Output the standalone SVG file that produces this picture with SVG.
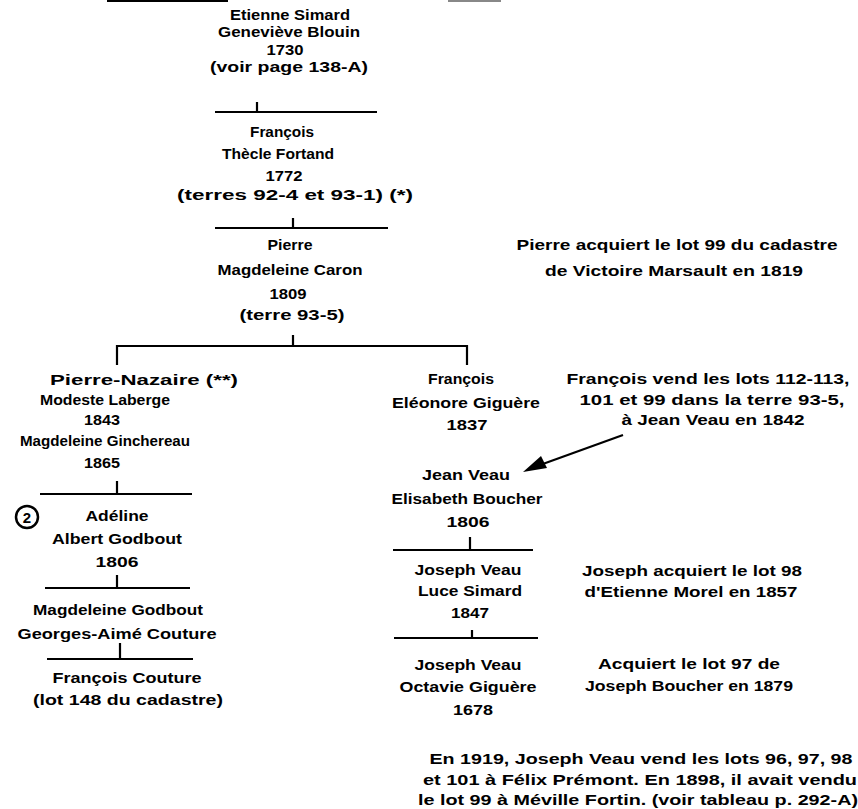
<svg xmlns="http://www.w3.org/2000/svg" width="858" height="809" viewBox="0 0 858 809">
<style>
text{font-family:"Liberation Sans","DejaVu Sans",sans-serif;font-weight:bold;font-size:15px;fill:#000;text-anchor:middle}
.ln{stroke:#000;stroke-width:2.2;fill:none}
</style>
<rect width="858" height="809" fill="#fff"/>
<line x1="107" y1="1" x2="228" y2="1" stroke="#000" stroke-width="2"/>
<line x1="448" y1="1" x2="501" y2="1" stroke="#888" stroke-width="2"/>
<g id="etienne">
<text x="290" y="20" textLength="120" lengthAdjust="spacingAndGlyphs">Etienne Simard</text>
<text x="289" y="37" textLength="142" lengthAdjust="spacingAndGlyphs">Geneviève Blouin</text>
<text x="285" y="55" textLength="37" lengthAdjust="spacingAndGlyphs">1730</text>
<text x="289" y="72" textLength="158" lengthAdjust="spacingAndGlyphs">(voir page 138-A)</text>
</g>
<g id="francois1">
<text x="282" y="137" textLength="64" lengthAdjust="spacingAndGlyphs">François</text>
<text x="278" y="159" textLength="112" lengthAdjust="spacingAndGlyphs">Thècle Fortand</text>
<text x="284" y="181" textLength="37" lengthAdjust="spacingAndGlyphs">1772</text>
<text x="295" y="200" textLength="236" lengthAdjust="spacingAndGlyphs">(terres 92-4 et 93-1) (*)</text>
</g>
<g id="pierre">
<text x="290" y="250" textLength="45" lengthAdjust="spacingAndGlyphs">Pierre</text>
<text x="290" y="275" textLength="145" lengthAdjust="spacingAndGlyphs">Magdeleine Caron</text>
<text x="288" y="299" textLength="37" lengthAdjust="spacingAndGlyphs">1809</text>
<text x="292" y="320" textLength="105" lengthAdjust="spacingAndGlyphs">(terre 93-5)</text>
</g>
<g id="note-pierre">
<text x="677" y="250" textLength="321" lengthAdjust="spacingAndGlyphs">Pierre acquiert le lot 99 du cadastre</text>
<text x="674" y="276" textLength="258" lengthAdjust="spacingAndGlyphs">de Victoire Marsault en 1819</text>
</g>
<g id="pierre-nazaire">
<text x="144" y="385" textLength="188" lengthAdjust="spacingAndGlyphs">Pierre-Nazaire (**)</text>
<text x="105" y="405" textLength="130" lengthAdjust="spacingAndGlyphs">Modeste Laberge</text>
<text x="102" y="425" textLength="36" lengthAdjust="spacingAndGlyphs">1843</text>
<text x="105" y="446" textLength="170" lengthAdjust="spacingAndGlyphs">Magdeleine Ginchereau</text>
<text x="102" y="468" textLength="36" lengthAdjust="spacingAndGlyphs">1865</text>
</g>
<g id="adeline">
<circle cx="27" cy="517" r="11" fill="none" stroke="#000" stroke-width="2.5"/>
<text x="27" y="522.5">2</text>
<text x="117" y="521" textLength="63" lengthAdjust="spacingAndGlyphs">Adéline</text>
<text x="117" y="544" textLength="130" lengthAdjust="spacingAndGlyphs">Albert Godbout</text>
<text x="117" y="567" textLength="43" lengthAdjust="spacingAndGlyphs">1806</text>
</g>
<g id="magdeleine-godbout">
<text x="118" y="615" textLength="170" lengthAdjust="spacingAndGlyphs">Magdeleine Godbout</text>
<text x="117" y="639" textLength="199" lengthAdjust="spacingAndGlyphs">Georges-Aimé Couture</text>
</g>
<g id="francois-couture">
<text x="127" y="683" textLength="149" lengthAdjust="spacingAndGlyphs">François Couture</text>
<text x="128" y="705" textLength="190" lengthAdjust="spacingAndGlyphs">(lot 148 du cadastre)</text>
</g>
<g id="francois2">
<text x="461" y="384" textLength="66" lengthAdjust="spacingAndGlyphs">François</text>
<text x="466" y="408" textLength="148" lengthAdjust="spacingAndGlyphs">Eléonore Giguère</text>
<text x="467" y="430" textLength="41" lengthAdjust="spacingAndGlyphs">1837</text>
</g>
<g id="note-francois">
<text x="708" y="384" textLength="283" lengthAdjust="spacingAndGlyphs">François vend les lots 112-113,</text>
<text x="712" y="405" textLength="265" lengthAdjust="spacingAndGlyphs">101 et 99 dans la terre 93-5,</text>
<text x="713" y="425" textLength="183" lengthAdjust="spacingAndGlyphs">à Jean Veau en 1842</text>
</g>
<g id="jean-veau">
<text x="466" y="480" textLength="88" lengthAdjust="spacingAndGlyphs">Jean Veau</text>
<text x="467" y="504" textLength="151" lengthAdjust="spacingAndGlyphs">Elisabeth Boucher</text>
<text x="468" y="527" textLength="43" lengthAdjust="spacingAndGlyphs">1806</text>
</g>
<g id="joseph1">
<text x="468" y="575" textLength="107" lengthAdjust="spacingAndGlyphs">Joseph Veau</text>
<text x="470" y="596" textLength="104" lengthAdjust="spacingAndGlyphs">Luce Simard</text>
<text x="470" y="618" textLength="38" lengthAdjust="spacingAndGlyphs">1847</text>
</g>
<g id="note-joseph1">
<text x="692" y="576" textLength="220" lengthAdjust="spacingAndGlyphs">Joseph acquiert le lot 98</text>
<text x="691" y="597" textLength="213" lengthAdjust="spacingAndGlyphs">d'Etienne Morel en 1857</text>
</g>
<g id="joseph2">
<text x="468" y="670" textLength="107" lengthAdjust="spacingAndGlyphs">Joseph Veau</text>
<text x="468" y="692" textLength="137" lengthAdjust="spacingAndGlyphs">Octavie Giguère</text>
<text x="473" y="715" textLength="40" lengthAdjust="spacingAndGlyphs">1678</text>
</g>
<g id="note-joseph2">
<text x="689" y="669" textLength="182" lengthAdjust="spacingAndGlyphs">Acquiert le lot 97 de</text>
<text x="689" y="691" textLength="208" lengthAdjust="spacingAndGlyphs">Joseph Boucher en 1879</text>
</g>
<g id="note-bottom">
<text x="641" y="764" textLength="423" lengthAdjust="spacingAndGlyphs">En 1919, Joseph Veau vend les lots 96, 97, 98</text>
<text x="640" y="785" textLength="434" lengthAdjust="spacingAndGlyphs">et 101 à Félix Prémont.  En 1898, il avait vendu</text>
<text x="638" y="805" textLength="440" lengthAdjust="spacingAndGlyphs">le lot 99 à Méville Fortin. (voir tableau p. 292-A)</text>
</g>
<g id="connectors">
<path class="ln" d="M215 112H377M257 102V112"/>
<path class="ln" d="M215 228H388M293 218V228"/>
<path class="ln" d="M293 335V346M117 365V346H467V365"/>
<path class="ln" d="M40 494H192M117 481V494"/>
<path class="ln" d="M45 588H190M117 575V588"/>
<path class="ln" d="M47 659H193M120 643V659"/>
<path class="ln" d="M393 550H533M470 537V550"/>
<path class="ln" d="M394 638H538M472 630V638"/>
<path class="ln" d="M623 435L540 465"/>
<polygon points="523,472 541,456 547,468" fill="#000"/>
</g>
</svg>
